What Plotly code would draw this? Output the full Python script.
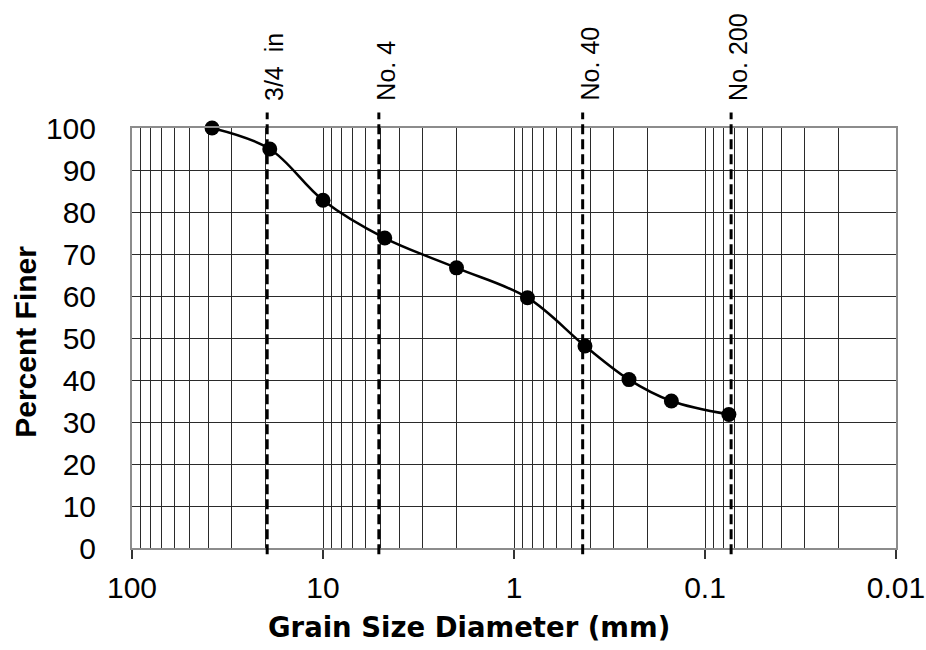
import math
import plotly.graph_objects as go

# Sieve analysis data
grain_size_mm = [38.1, 19.0, 10.0, 4.75, 2.0, 0.85, 0.425, 0.25, 0.15, 0.075]
percent_finer = [100, 95, 82.8, 73.8, 66.7, 59.6, 48.1, 40.1, 35.0, 31.8]

# Reference sieve lines
sieve_labels = ["3/4  in", "No. 4", "No. 40", "No. 200"]
sieve_sizes = [19.6, 5.1, 0.437, 0.073]

# Axis ticks
x_tickvals = [100, 10, 1, 0.1, 0.01]
x_ticktext = ["100", "10", "1", "0.1", "0.01"]
x_minorvals = [m * d for d in [10, 1, 0.1, 0.01] for m in range(2, 10)]
y_tickvals = list(range(0, 101, 10))

GRID = "#2a2a2a"
BORDER = "#8c8c8c"

fig = go.Figure()
fig.add_trace(go.Scatter(
    x=grain_size_mm, y=percent_finer, mode="lines+markers",
    line=dict(color="black", width=2.5, shape="spline", smoothing=1),
    marker=dict(color="black", size=15),
    showlegend=False, cliponaxis=False,
))

shapes = []
annotations = []
for lab, s in zip(sieve_labels, sieve_sizes):
    shapes.append(dict(type="line", xref="x", yref="paper", x0=s, x1=s,
                       y0=-0.015, y1=1.037,
                       line=dict(color="black", width=3, dash="10px,5px"),
                       layer="above"))
    annotations.append(dict(text=lab, xref="x", yref="paper", x=math.log10(s), y=1.06,
                            xanchor="center", yanchor="bottom", textangle=-90,
                            showarrow=False, xshift=7,
                            font=dict(family="Liberation Sans", size=25, color="black")))

annotations.append(dict(text="<b>Grain Size Diameter (mm)</b>", xref="paper", yref="paper",
                        x=0.4405, y=-0.188, xanchor="center", yanchor="middle",
                        showarrow=False,
                        font=dict(family="DejaVu Sans", size=27.5, color="black")))
annotations.append(dict(text="<b>Percent Finer</b>", xref="paper", yref="paper",
                        x=-0.1387, y=0.491, xanchor="center", yanchor="middle",
                        textangle=-90, showarrow=False,
                        font=dict(family="Liberation Sans", size=30, color="black")))

fig.update_layout(
    width=926, height=650,
    margin=dict(l=132, r=30, t=128, b=102, autoexpand=False),
    paper_bgcolor="white", plot_bgcolor="white",
    shapes=shapes, annotations=annotations,
    xaxis=dict(type="log", range=[2, -2], autorange=False, automargin=False,
               tickvals=x_tickvals, ticktext=x_ticktext,
               ticks="outside", ticklen=9, tickwidth=1.5, tickcolor="#333",
               showgrid=True, gridcolor=GRID, gridwidth=1,
               minor=dict(tickvals=x_minorvals, showgrid=True, gridcolor=GRID,
                          gridwidth=1, ticks=""),
               showline=True, linecolor=BORDER, linewidth=2, mirror=True,
               tickfont=dict(family="Liberation Sans", size=30, color="black"),
               ticklabelstandoff=3, zeroline=False),
    yaxis=dict(range=[0, 100], autorange=False, automargin=False, tickvals=y_tickvals,
               ticks="", showgrid=True, gridcolor=GRID, gridwidth=1,
               showline=True, linecolor=BORDER, linewidth=2, mirror=True,
               tickfont=dict(family="Liberation Sans", size=30, color="black"),
               ticklabelstandoff=28, zeroline=False),
)

fig.write_html("out.html", config={"displayModeBar": False},
               post_script="document.body.style.margin='0';document.body.style.padding='0';")
